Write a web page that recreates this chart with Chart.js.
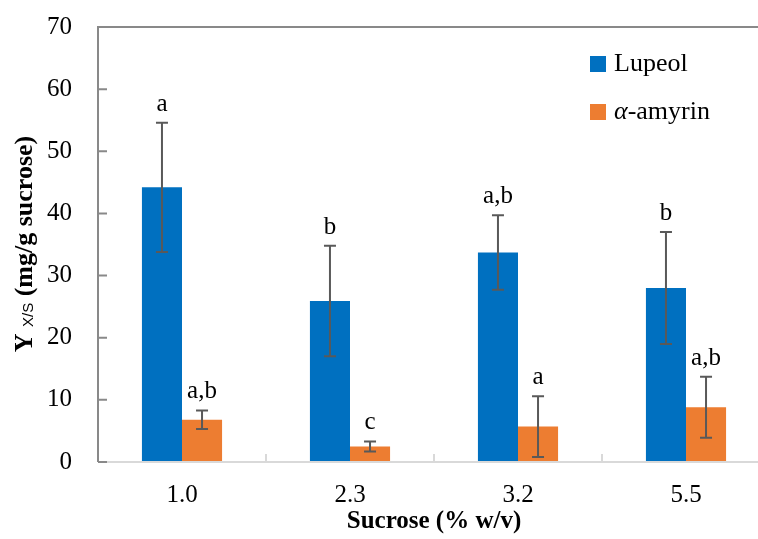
<!DOCTYPE html>
<html>
<head>
<meta charset="utf-8">
<script src="https://cdn.jsdelivr.net/npm/chart.js@4/dist/chart.umd.min.js"></script>
<style>
  html, body { margin: 0; padding: 0; background: #fff; width: 758px; height: 539px; overflow: hidden; }
  #wrap { position: relative; width: 790px; height: 539px; }
</style>
</head>
<body>
<div id="wrap"><canvas id="chart" width="790" height="539"></canvas></div>
<script>
// Sucrose concentration groups (% w/v)
const categories = ['1.0', '2.3', '3.2', '5.5'];
// Yield Y x/s (mg/g sucrose) and standard deviations
const lupeol = [44.2, 25.9, 33.7, 28.0];
const lupeolErr = [10.4, 8.9, 6.0, 9.0];
const amyrin = [6.8, 2.5, 5.7, 8.8];
const amyrinErr = [1.5, 0.8, 4.9, 4.9];
// Significance groups written above each bar
const lupeolGroups = ['a', 'b', 'a,b', 'b'];
const amyrinGroups = ['a,b', 'c', 'a', 'a,b'];
// Value axis ticks
const yTicks = [0, 10, 20, 30, 40, 50, 60, 70];

const BLUE = '#0070C0';
const ORANGE = '#ED7D31';
const SERIF = '"Liberation Serif", "Times New Roman", serif';

const decorations = {
  id: 'decorations',
  afterDatasetsDraw(chart) {
    const { ctx, chartArea: a, scales: { x, y } } = chart;
    ctx.save();

    // bottom axis line and category boundary ticks
    ctx.strokeStyle = '#d9d9d9';
    ctx.lineWidth = 2;
    ctx.beginPath();
    ctx.moveTo(a.left, a.bottom);
    ctx.lineTo(a.right, a.bottom);
    for (let i = 0; i <= categories.length; i++) {
      const px = i === 0 ? a.left
        : i === categories.length ? a.right
        : (x.getPixelForTick(i - 1) + x.getPixelForTick(i)) / 2;
      ctx.moveTo(px, a.bottom);
      ctx.lineTo(px, a.bottom - 8);
    }
    ctx.stroke();

    // left axis, top frame line and inward value ticks
    ctx.strokeStyle = '#898989';
    ctx.beginPath();
    ctx.moveTo(a.left, a.bottom);
    ctx.lineTo(a.left, a.top);
    ctx.lineTo(a.right, a.top);
    yTicks.forEach(v => {
      const py = y.getPixelForValue(v);
      ctx.moveTo(a.left, py);
      ctx.lineTo(a.left + 9, py);
    });
    ctx.stroke();

    // error bars and group letters
    const series = [
      { idx: 0, vals: lupeol, errs: lupeolErr, groups: lupeolGroups },
      { idx: 1, vals: amyrin, errs: amyrinErr, groups: amyrinGroups }
    ];
    ctx.strokeStyle = '#595959';
    ctx.fillStyle = '#000';
    ctx.font = '25px ' + SERIF;
    ctx.textAlign = 'center';
    ctx.textBaseline = 'alphabetic';
    series.forEach(s => {
      const meta = chart.getDatasetMeta(s.idx);
      meta.data.forEach((bar, i) => {
        const top = y.getPixelForValue(s.vals[i] + s.errs[i]);
        const bot = y.getPixelForValue(s.vals[i] - s.errs[i]);
        ctx.beginPath();
        ctx.moveTo(bar.x, top); ctx.lineTo(bar.x, bot);
        ctx.moveTo(bar.x - 6, top); ctx.lineTo(bar.x + 6, top);
        ctx.moveTo(bar.x - 6, bot); ctx.lineTo(bar.x + 6, bot);
        ctx.stroke();
        ctx.fillText(s.groups[i], bar.x, top - 12);
      });
    });

    // legend
    ctx.textAlign = 'left';
    ctx.textBaseline = 'middle';
    ctx.fillStyle = BLUE;
    ctx.fillRect(590, 56, 16, 16);
    ctx.fillStyle = ORANGE;
    ctx.fillRect(590, 104, 16, 16);
    ctx.fillStyle = '#000';
    ctx.font = '26px ' + SERIF;
    ctx.fillText('Lupeol', 614, 64);
    ctx.font = 'italic 26px ' + SERIF;
    ctx.fillText('\u03B1', 614, 112);
    const aw = ctx.measureText('\u03B1').width;
    ctx.font = '26px ' + SERIF;
    ctx.fillText('-amyrin', 614 + aw, 112);

    // value axis title with subscript
    const mainFont = 'bold 26px ' + SERIF;
    const subFont = '15px "Liberation Sans", Arial, sans-serif';
    const parts = [
      { t: 'Y ', f: mainFont, dy: 0 },
      { t: 'X/S', f: subFont, dy: 1 },
      { t: ' (mg/g sucrose)', f: mainFont, dy: 0 }
    ];
    let total = 0;
    parts.forEach(p => { ctx.font = p.f; p.w = ctx.measureText(p.t).width; total += p.w; });
    ctx.translate(32, 244);
    ctx.rotate(-Math.PI / 2);
    ctx.textBaseline = 'alphabetic';
    let cx = -total / 2;
    parts.forEach(p => {
      ctx.font = p.f;
      ctx.fillText(p.t, cx, p.dy);
      cx += p.w;
    });

    ctx.restore();
  }
};

new Chart(document.getElementById('chart'), {
  type: 'bar',
  data: {
    labels: categories,
    datasets: [
      { label: 'Lupeol', data: lupeol, backgroundColor: BLUE, borderWidth: 0,
        categoryPercentage: 0.477, barPercentage: 1.0 },
      { label: '\u03B1-amyrin', data: amyrin, backgroundColor: ORANGE, borderWidth: 0,
        categoryPercentage: 0.477, barPercentage: 1.0 }
    ]
  },
  options: {
    responsive: false,
    animation: false,
    devicePixelRatio: 1,
    layout: { padding: { top: 27, right: 20, left: 0, bottom: 0 } },
    plugins: { legend: { display: false }, tooltip: { enabled: false } },
    scales: {
      x: {
        grid: { display: false, drawTicks: false },
        border: { display: false },
        ticks: { color: '#000', font: { family: SERIF, size: 25 }, padding: 18 },
        title: {
          display: true, text: 'Sucrose (% w/v)', color: '#000',
          font: { family: SERIF, size: 25, weight: 'bold' },
          padding: { top: 0, bottom: 2 }
        },
        afterFit: s => { s.height = 77; s.paddingLeft = 0; s.paddingRight = 0; }
      },
      y: {
        min: 0, max: 70,
        grid: { display: false, drawTicks: false },
        border: { display: false },
        ticks: {
          color: '#000', font: { family: SERIF, size: 25 }, padding: 26,
          stepSize: 10,
          callback: v => yTicks.includes(v) ? String(v) : ''
        },
        afterFit: s => { s.width = 98; s.paddingTop = 0; s.paddingBottom = 0; }
      }
    }
  },
  plugins: [decorations]
});
</script>
</body>
</html>
